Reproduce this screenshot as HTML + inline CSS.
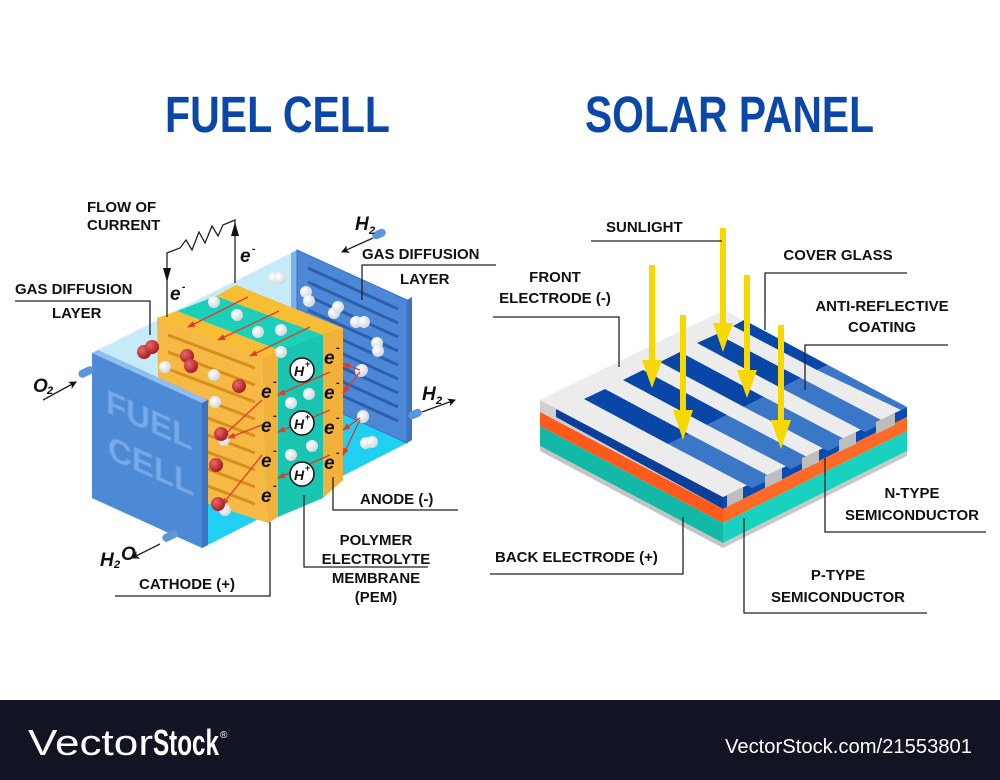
<!DOCTYPE html>
<html><head><meta charset="utf-8"><style>
html,body{margin:0;padding:0;background:#fff;}
svg{display:block;}
text{font-family:"Liberation Sans",sans-serif;}
.lb{font-weight:bold;font-size:15px;fill:#111;}
.ln{stroke:#222;stroke-width:1.3;fill:none;}
.ei{font-family:"Liberation Sans",sans-serif;font-weight:bold;font-style:italic;font-size:19px;fill:#111;}
</style></head><body>
<svg width="1000" height="780" viewBox="0 0 1000 780" xmlns="http://www.w3.org/2000/svg">
<defs>
<marker id="ah" markerWidth="8" markerHeight="8" refX="7" refY="4" orient="auto" markerUnits="userSpaceOnUse"><path d="M0,0 L8,4 L0,8 L2,4 Z" fill="#111"/></marker>
<marker id="ra" markerWidth="8" markerHeight="8" refX="7" refY="4" orient="auto" markerUnits="userSpaceOnUse"><path d="M0,1 L8,4 L0,7 Z" fill="#e23a2a"/></marker>
<radialGradient id="wb" cx="0.35" cy="0.35" r="0.7"><stop offset="0" stop-color="#fff"/><stop offset="1" stop-color="#cfd6dc"/></radialGradient>
<radialGradient id="rb" cx="0.35" cy="0.35" r="0.7"><stop offset="0" stop-color="#e86a6a"/><stop offset="1" stop-color="#a8161e"/></radialGradient>
</defs>
<rect width="1000" height="780" fill="#fff"/>

<!-- Titles -->
<text x="165" y="132" font-size="51" font-weight="bold" fill="#0a47a8" textLength="225" lengthAdjust="spacingAndGlyphs">FUEL CELL</text>
<text x="585" y="132" font-size="51" font-weight="bold" fill="#0a47a8" textLength="289" lengthAdjust="spacingAndGlyphs">SOLAR PANEL</text>

<!-- ============ FUEL CELL ============ -->
<!-- box top (transparent) -->
<polygon points="92,353 297,250 407,300 202,403" fill="#c6ebf8"/>
<!-- floor -->
<polygon points="92,498 297,393 407,443 202,548" fill="#1fd0f3"/>
<!-- back plate -->
<polygon points="291,253 297,250 297,393 291,396" fill="#7fb2ec"/>
<polygon points="297,250 407,300 407,443 297,393" fill="#4d88d6" stroke="#3a6fbf" stroke-width="1"/>
<polygon points="407,300 412,297 412,440 407,443" fill="#3d73c0"/>
<g stroke="#2e5fae" stroke-width="3" fill="none">
<path d="M308,268 L398,309"/><path d="M308,282 L398,323"/><path d="M308,296 L398,337"/><path d="M308,310 L398,351"/><path d="M308,324 L398,365"/><path d="M308,338 L398,379"/><path d="M308,352 L398,393"/><path d="M308,366 L398,407"/><path d="M308,380 L398,421"/>
</g>
<rect x="372" y="230" width="14" height="8" rx="4" fill="#5b95dc" transform="rotate(-25 379 234)"/>
<rect x="408" y="410" width="14" height="8" rx="4" fill="#5b95dc" transform="rotate(-25 415 414)"/>
<!-- white balls behind -->
<g fill="url(#wb)">
<circle cx="274" cy="278" r="6"/><circle cx="280" cy="278" r="6"/>
<circle cx="306" cy="292" r="6"/><circle cx="309" cy="301" r="6"/>
<circle cx="334" cy="313" r="6"/><circle cx="338" cy="307" r="6"/>
<circle cx="356" cy="322" r="6"/><circle cx="364" cy="322" r="6"/>
<circle cx="377" cy="343" r="6"/><circle cx="378" cy="351" r="6"/>
<circle cx="361" cy="371" r="6"/><circle cx="363" cy="416" r="6"/>
<circle cx="366" cy="443" r="6"/><circle cx="372" cy="442" r="6"/>
</g>
<!-- stack top -->
<polygon points="157,318 262,358 282,351 177,311" fill="#f7bd34"/>
<polygon points="177,311 282,351 323,335 216,296" fill="#1ccfb9"/>
<polygon points="216,296 323,335 343,328 236,285" fill="#f7bd34"/>
<!-- stack left face (channels) -->
<polygon points="157,318 262,358 268,523 160,488" fill="#f7b946"/>
<g stroke="#d88f1c" stroke-width="3" fill="none">
<path d="M168,335 L255,368"/><path d="M168,352 L255,385"/><path d="M168,369 L255,402"/><path d="M168,386 L255,419"/><path d="M168,403 L255,436"/><path d="M168,420 L255,453"/><path d="M168,437 L255,470"/><path d="M168,454 L255,487"/><path d="M168,471 L255,504"/>
</g>
<!-- stack right face -->
<polygon points="262,358 278,352 278,517 268,523" fill="#f2b13a"/>
<polygon points="278,352 323,335 323,498 278,517" fill="#19c4b0"/>
<polygon points="323,335 343,328 343,480 323,498" fill="#f2b13a"/>
<!-- top balls & arrows -->
<g fill="url(#wb)">
<circle cx="214" cy="302" r="6"/><circle cx="237" cy="315" r="6"/><circle cx="258" cy="332" r="6"/><circle cx="281" cy="330" r="6"/><circle cx="281" cy="352" r="6"/>
<circle cx="165" cy="367" r="6"/><circle cx="214" cy="375" r="6"/><circle cx="215" cy="402" r="6"/>
<circle cx="291" cy="403" r="6"/><circle cx="309" cy="394" r="6"/><circle cx="291" cy="455" r="6"/><circle cx="312" cy="446" r="6"/>
<circle cx="362" cy="370" r="6"/><circle cx="363" cy="417" r="6"/>
<circle cx="224" cy="440" r="6"/><circle cx="225" cy="510" r="6"/>
</g>
<g stroke="#e23a2a" stroke-width="1.3" marker-end="url(#ra)">
<path d="M248,297 L188,327"/><path d="M279,311 L218,340"/><path d="M310,327 L250,356"/>
<path d="M330,372 L278,395"/><path d="M330,410 L278,432"/><path d="M330,455 L278,478"/>
<path d="M262,400 L222,437"/><path d="M262,455 L222,505"/><path d="M262,425 L228,438"/>
<path d="M360,370 L343,364"/><path d="M360,372 L343,393"/><path d="M360,418 L343,430"/><path d="M360,420 L343,455"/>
</g>
<g fill="url(#rb)">
<circle cx="144" cy="352" r="7"/><circle cx="152" cy="347" r="7"/>
<circle cx="187" cy="356" r="7"/><circle cx="191" cy="366" r="7"/>
<circle cx="239" cy="386" r="7"/><circle cx="221" cy="434" r="7"/><circle cx="216" cy="465" r="7"/><circle cx="218" cy="504" r="7"/>
</g>
<!-- e- labels -->
<g class="ei">
<text x="261" y="398">e</text><text x="261" y="432">e</text><text x="261" y="467">e</text><text x="261" y="502">e</text>
<text x="324" y="364">e</text><text x="324" y="399">e</text><text x="324" y="434">e</text><text x="324" y="469">e</text>
</g>
<g font-size="11" font-weight="bold" fill="#111">
<text x="273" y="385">-</text><text x="273" y="419">-</text><text x="273" y="454">-</text><text x="273" y="489">-</text>
<text x="336" y="351">-</text><text x="336" y="386">-</text><text x="336" y="421">-</text><text x="336" y="456">-</text>
</g>
<g>
<ellipse cx="302" cy="370" rx="12" ry="12" fill="#fff" stroke="#111" stroke-width="1.5"/>
<ellipse cx="302" cy="423" rx="12" ry="12" fill="#fff" stroke="#111" stroke-width="1.5"/>
<ellipse cx="302" cy="474" rx="12" ry="12" fill="#fff" stroke="#111" stroke-width="1.5"/>
<g font-size="14" font-weight="bold" font-style="italic" fill="#111">
<text x="294" y="376">H</text><text x="294" y="429">H</text><text x="294" y="480">H</text>
</g>
<g font-size="9" font-weight="bold" fill="#111"><text x="305" y="367">+</text><text x="305" y="420">+</text><text x="305" y="471">+</text></g>
</g>
<!-- front plate -->
<polygon points="92,353 202,403 208,400 98,350" fill="#8fbff0"/>
<polygon points="202,403 208,400 208,545 202,548" fill="#3b72c2"/>
<polygon points="92,353 202,403 202,548 92,498" fill="#4c8ad6"/>
<text transform="translate(106,412) skewY(24)" font-size="33" font-weight="bold" fill="#79aae6" stroke="#5f97dc" stroke-width="1">FUEL</text>
<text transform="translate(108,458) skewY(24)" font-size="33" font-weight="bold" fill="#79aae6" stroke="#5f97dc" stroke-width="1">CELL</text>
<rect x="78" y="368" width="16" height="8" rx="4" fill="#5b95dc" transform="rotate(-25 86 372)"/>
<rect x="162" y="532" width="16" height="8" rx="4" fill="#5b95dc" transform="rotate(-25 170 536)"/>

<!-- circuit -->
<path class="ln" d="M167,317 L167,253 L180,248 L186,240 L192,250 L199,232 L205,243 L212,226 L218,236 L223,225 L235,220 L235,283" />
<path d="M163,268 L167,282 L171,268 Z" fill="#111"/>
<path d="M231,236 L235,222 L239,236 Z" fill="#111"/>
<text class="ei" x="170" y="300" font-size="18">e</text><text x="182" y="290" font-size="10" font-weight="bold">-</text>
<text class="ei" x="240" y="262" font-size="18">e</text><text x="252" y="252" font-size="10" font-weight="bold">-</text>

<!-- fuel cell labels -->
<text class="lb" x="87" y="212">FLOW OF</text>
<text class="lb" x="87" y="230">CURRENT</text>
<text class="lb" x="15" y="294">GAS DIFFUSION</text>
<text class="lb" x="52" y="318">LAYER</text>
<path class="ln" d="M15,301 L150,301 L150,335"/>
<text class="lb" x="362" y="259">GAS DIFFUSION</text>
<text class="lb" x="400" y="284">LAYER</text>
<path class="ln" d="M496,265 L362,265 L362,300"/>
<text class="ei" x="355" y="230" font-size="18">H</text><text x="369" y="234" font-size="11" font-weight="bold" font-style="italic">2</text>
<path class="ln" d="M373,238 L342,252" marker-end="url(#ah)"/>
<text class="ei" x="33" y="392" font-size="18">O</text><text x="47" y="394" font-size="11" font-weight="bold" font-style="italic">2</text>
<path class="ln" d="M43,400 L76,382" marker-end="url(#ah)"/>
<text class="ei" x="422" y="400" font-size="18">H</text><text x="436" y="404" font-size="11" font-weight="bold" font-style="italic">2</text>
<path class="ln" d="M422,412 L455,400" marker-end="url(#ah)"/>
<text class="ei" x="100" y="566" font-size="18">H</text><text x="114" y="568" font-size="11" font-weight="bold" font-style="italic">2</text><text class="ei" x="121" y="560" font-size="18">O</text>
<path class="ln" d="M160,544 L132,558" marker-end="url(#ah)"/>
<text class="lb" x="360" y="504">ANODE (-)</text>
<path class="ln" d="M333,477 L333,510 L458,510"/>
<text class="lb" x="139" y="589">CATHODE (+)</text>
<path class="ln" d="M115,596 L270,596 L270,522"/>
<g class="lb" font-size="14" text-anchor="middle">
<text x="376" y="545">POLYMER</text><text x="376" y="564">ELECTROLYTE</text><text x="376" y="583">MEMBRANE</text><text x="376" y="602">(PEM)</text>
</g>
<path class="ln" d="M304,495 L304,567 L428,567"/>

<!-- ============ SOLAR PANEL ============ -->
<polygon points="540,400 723,497 723,509 540,412" fill="#cfcfcf"/>
<polygon points="556,409 723,497 723,509 556,417" fill="#0b3f9a"/>
<polygon points="540,412 723,509 723,523 540,426" fill="#ff5a1c"/>
<polygon points="540,426 723,523 723,543 540,446" fill="#13b9a6"/>
<polygon points="540,446 723,543 723,548 540,451" fill="#c4c4c4"/>
<polygon points="723,497 907,407 907,417 723,509" fill="#0c4ab0"/>
<polygon points="723,509 907,417 907,431 723,523" fill="#ff6a26"/>
<polygon points="723,523 907,431 907,451 723,543" fill="#18d1be"/>
<polygon points="723,543 907,451 907,456 723,548" fill="#c8c8c8"/>
<polygon points="540,400 724,310 907,407 723,497" fill="#ececec"/>
<g>
<polygon points="584,399 605,389 689,434 668,444" fill="#0846a8"/>
<polygon points="668,444 689,434 773,478 752,488" fill="#3a78c7"/>
<polygon points="623,380 643,370 727,415 707,425" fill="#0846a8"/>
<polygon points="707,425 727,415 811,459 791,469" fill="#3a78c7"/>
<polygon points="660,362 680,352 764,397 744,407" fill="#0846a8"/>
<polygon points="744,407 764,397 848,441 828,451" fill="#3a78c7"/>
<polygon points="697,343 717,334 801,378 781,388" fill="#0846a8"/>
<polygon points="781,388 801,378 885,422 865,432" fill="#3a78c7"/>
<polygon points="733,326 744,320 828,365 817,370" fill="#0846a8"/>
<polygon points="817,370 828,365 907,407 901,410" fill="#3a78c7"/>
</g>
<g fill="#bdbdbd">
<polygon points="727,495 743,487 743,499 727,507"/>
<polygon points="765,476 782,468 782,480 765,488"/>
<polygon points="802,458 819,450 819,462 802,470"/>
<polygon points="839,440 856,432 856,444 839,452"/>
<polygon points="876,422 895,413 895,425 876,434"/>
</g>
<g fill="#f7d800">
<polygon points="649,265 655,265 655,360 662,360 652,388 642,360 649,360"/>
<polygon points="680,315 686,315 686,410 693,410 683,440 673,410 680,410"/>
<polygon points="720,228 726,228 726,323 733,323 723,352 713,323 720,323"/>
<polygon points="744,275 750,275 750,370 757,370 747,398 737,370 744,370"/>
<polygon points="778,325 784,325 784,420 791,420 781,449 771,420 778,420"/>
</g>
<text class="lb" x="606" y="232">SUNLIGHT</text>
<path class="ln" d="M591,241 L722,241"/>
<g class="lb" text-anchor="middle">
<text x="555" y="282">FRONT</text><text x="555" y="303">ELECTRODE (-)</text>
<text x="838" y="260">COVER GLASS</text>
<text x="882" y="311">ANTI-REFLECTIVE</text><text x="882" y="332">COATING</text>
<text x="912" y="498">N-TYPE</text><text x="912" y="520">SEMICONDUCTOR</text>
<text x="838" y="580">P-TYPE</text><text x="838" y="602">SEMICONDUCTOR</text>
</g>
<path class="ln" d="M493,317 L619,317 L619,367"/>
<path class="ln" d="M907,273 L765,273 L765,330"/>
<path class="ln" d="M948,345 L805,345 L805,390"/>
<path class="ln" d="M825,458 L825,532 L986,532"/>
<path class="ln" d="M744,518 L744,613 L927,613"/>
<text class="lb" x="495" y="562">BACK ELECTRODE (+)</text>
<path class="ln" d="M490,574 L683,574 L683,517"/>

<!-- bottom bar -->
<rect x="0" y="700" width="1000" height="80" fill="#121424"/>
<text x="28" y="755" font-size="36" fill="#fff" textLength="125" lengthAdjust="spacingAndGlyphs">Vector</text>
<text x="153" y="755" font-size="36" font-weight="bold" fill="#fff" textLength="66" lengthAdjust="spacingAndGlyphs">Stock</text>
<text x="220" y="738" font-size="10" fill="#fff">®</text>
<text x="725" y="753" font-size="20" fill="#fff" textLength="247" lengthAdjust="spacingAndGlyphs">VectorStock.com/21553801</text>
</svg>
</body></html>
